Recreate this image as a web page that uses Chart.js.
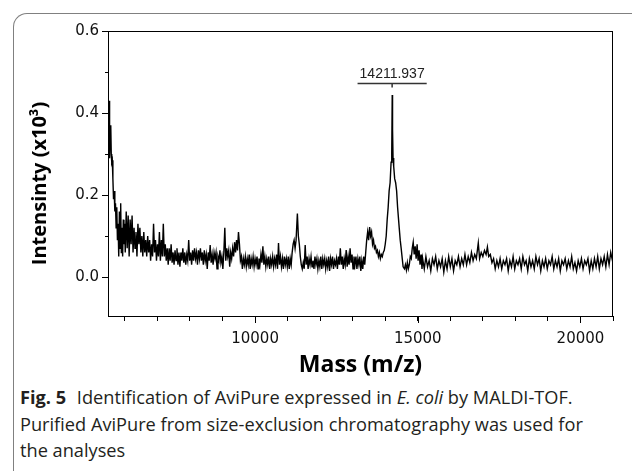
<!DOCTYPE html>
<html lang="en">
<head>
<meta charset="UTF-8">
<title>AviPure MALDI-TOF</title>
<script src="https://cdn.jsdelivr.net/npm/chart.js"></script>
<style>
  body { margin: 0; width: 632px; height: 471px; overflow: hidden; background: #fff; position: relative; }
  #frame { position: absolute; left: 13px; top: 13px; width: 660px; height: 480px;
           border-left: 1.5px solid #808080; border-top: 1.5px solid #808080; border-top-left-radius: 14px; }
  #wrap { position: absolute; left: 0; top: 0; width: 632px; height: 380px; }
  #caption { position: absolute; left: 20px; top: 384px; white-space: nowrap;
             font-family: "Open Sans", sans-serif; font-size: 18.2px; line-height: 26.5px; color: #231f20; }
  #caption b { margin-right: 6px; }
</style>
</head>
<body>
<div id="frame"></div>
<div id="wrap"><canvas id="spectrum" width="632" height="380"></canvas></div>
<div id="caption">
  <b>Fig. 5</b> Identification of AviPure expressed in <i>E. coli</i> by MALDI-TOF.<br>
  Purified AviPure from size-exclusion chromatography was used for<br>
  the analyses
</div>

<script>
    // [mass (m/z), intensity (x10^3)]
    const lowMassRegion = [
        [5490,0.30],[5512,0.43],[5522,0.37],[5535,0.29],[5550,0.36],[5565,0.37],[5580,0.30],[5595,0.28],[5612,0.285],
        [5630,0.24],[5650,0.19],[5670,0.21],[5690,0.16],[5710,0.18],[5730,0.12],[5750,0.17],[5770,0.09],
        [5790,0.13],[5810,0.05],[5830,0.16],[5850,0.07],[5870,0.18],[5890,0.06],[5910,0.12],[5930,0.05],
        [5950,0.14],[5970,0.08],[5990,0.13],[6010,0.06],[6040,0.16],[6070,0.07],[6100,0.15],[6130,0.05],
        [6160,0.14],[6190,0.08],[6220,0.15],[6250,0.06],[6280,0.12],[6310,0.07],[6340,0.11],[6370,0.05],
        [6400,0.13],[6430,0.08],[6460,0.12],[6490,0.06],[6520,0.10],[6550,0.05],[6580,0.11],[6610,0.06],
        [6640,0.09],[6670,0.05],[6700,0.10],[6730,0.06],[6760,0.09],[6790,0.04],[6820,0.08],[6850,0.05],
        [6880,0.13],[6910,0.06],[6940,0.09],[6970,0.04]
    ];
    const midRegion = [
        [7000,0.08],[7030,0.05],[7060,0.11],[7090,0.04],[7120,0.09],[7150,0.05],[7180,0.13],[7210,0.05],
        [7240,0.08],[7270,0.04],[7300,0.07],[7330,0.03],[7360,0.07],[7390,0.04],[7420,0.08],[7450,0.035],
        [7480,0.06],[7510,0.03],[7540,0.065],[7570,0.04],[7600,0.07],[7630,0.03],[7660,0.06],[7690,0.025],
        [7720,0.06],[7750,0.04],[7780,0.07],[7810,0.035],[7840,0.06],[7870,0.03],[7900,0.055],[7930,0.04],
        [7960,0.09],[7990,0.04],[8020,0.06],[8050,0.03],[8080,0.065],[8110,0.04],[8140,0.07],[8170,0.045],
        [8200,0.06],[8230,0.03],[8260,0.065],[8290,0.045],[8320,0.07],[8350,0.04],[8380,0.06],[8410,0.03],
        [8440,0.065],[8470,0.04],[8500,0.055],[8530,0.02],[8560,0.06],[8590,0.04],[8620,0.078],[8650,0.035],
        [8680,0.055],[8710,0.03],[8740,0.06],[8770,0.045],[8800,0.06],[8830,0.02],[8860,0.05],[8890,0.04],
        [8920,0.065],[8950,0.035],[8980,0.05],[9010,0.02],[9040,0.06],[9070,0.12],[9100,0.04],[9130,0.07],
        [9160,0.05],[9190,0.065],[9220,0.025],[9250,0.06],[9280,0.045],[9310,0.07],[9340,0.05],[9370,0.085],
        [9400,0.06],[9430,0.09],[9460,0.065],[9490,0.11],[9520,0.08],[9550,0.04],[9580,0.05],[9610,0.02],
        [9640,0.045],[9670,0.03],[9700,0.05],[9730,0.025],[9760,0.045],[9790,0.03],[9820,0.055],[9850,0.02],
        [9880,0.045],[9910,0.03],[9940,0.05],[9970,0.025],[10000,0.045],[10030,0.03],[10060,0.05],[10090,0.02],
        [10120,0.045],[10150,0.03],[10180,0.055],[10210,0.035],[10240,0.075],[10270,0.03],[10300,0.05],[10330,0.025],
        [10360,0.045],[10390,0.03],[10420,0.05],[10450,0.02],[10480,0.045],[10510,0.03],[10540,0.05],[10570,0.025],
        [10600,0.045],[10630,0.03],[10660,0.055],[10690,0.02],[10720,0.083],[10750,0.03],[10780,0.05],[10810,0.025],
        [10840,0.045],[10870,0.02],[10900,0.05],[10930,0.03],[10960,0.045],[10990,0.025],[11020,0.05],[11050,0.02],
        [11080,0.045],[11110,0.03],[11140,0.06],[11170,0.08],[11200,0.09],[11230,0.07],[11260,0.09],[11300,0.155],
        [11330,0.10],[11360,0.08],[11390,0.05],[11420,0.03],[11450,0.02],[11480,0.035],[11510,0.02],[11540,0.078],
        [11570,0.03],[11600,0.05],[11630,0.02],[11660,0.045],[11690,0.03],[11720,0.05],[11750,0.025],[11780,0.04],
        [11810,0.02],[11840,0.05],[11870,0.03],[11900,0.045],[11930,0.02],[11960,0.04],[11990,0.025],[12020,0.05],
        [12050,0.02],[12080,0.045],[12110,0.03],[12140,0.045],[12170,0.02],[12200,0.04],[12230,0.025],[12260,0.05],
        [12290,0.015],[12320,0.045],[12350,0.03],[12380,0.05],[12410,0.02],[12440,0.04],[12470,0.03],[12500,0.045],
        [12530,0.02],[12560,0.05],[12590,0.03],[12620,0.07],[12650,0.03],[12680,0.05],[12710,0.02],[12740,0.045],
        [12770,0.03],[12800,0.066],[12830,0.025],[12860,0.05],[12890,0.03],[12920,0.07],[12950,0.035],[12980,0.055],
        [13010,0.02],[13040,0.05],[13070,0.03],[13100,0.05],[13130,0.02],[13160,0.045],[13190,0.03],[13220,0.05],
        [13250,0.015],[13280,0.04],[13310,0.02],[13340,0.05],[13370,0.03]
    ];
    const peakRegion = [
        [13400,0.06],[13430,0.09],[13460,0.11],[13490,0.09],[13520,0.122],[13550,0.10],[13580,0.11],[13610,0.08],
        [13640,0.09],[13670,0.07],[13700,0.075],[13730,0.06],[13760,0.065],[13790,0.05],[13820,0.06],[13850,0.045],
        [13880,0.055],[13910,0.05],[13940,0.06],[13970,0.065],[14000,0.08],[14030,0.10],[14060,0.14],[14090,0.17],
        [14120,0.21],[14150,0.23],[14180,0.28],[14200,0.30],[14215,0.444],[14225,0.36],[14240,0.29],[14260,0.27],
        [14290,0.24],[14320,0.23],[14350,0.21],[14380,0.17],[14410,0.14],[14430,0.12],[14461,0.09],[14490,0.07],
        [14523,0.045],[14550,0.025],[14590,0.02],[14620,0.03],[14650,0.017],[14680,0.035],[14710,0.02],[14740,0.03],
        [14770,0.05],[14800,0.045],[14830,0.07],[14860,0.085],[14890,0.055],[14920,0.075],[14950,0.045],[14980,0.08],
        [15010,0.04],[15040,0.065],[15070,0.03],[15100,0.055],[15130,0.02]
    ];
    const highMassRegion = [
        [15150,0.045],[15200,0.02],[15250,0.05],[15300,0.025],[15350,0.04],[15400,0.015],[15450,0.045],[15500,0.03],
        [15550,0.05],[15600,0.02],[15650,0.04],[15700,0.025],[15750,0.045],[15800,0.012],[15850,0.04],[15900,0.02],
        [15950,0.05],[16000,0.025],[16050,0.045],[16100,0.015],[16150,0.04],[16200,0.03],[16250,0.05],[16300,0.025],
        [16350,0.045],[16400,0.03],[16450,0.055],[16500,0.03],[16550,0.05],[16600,0.035],[16650,0.06],[16700,0.04],
        [16750,0.055],[16800,0.045],[16860,0.083],[16900,0.045],[16950,0.06],[17000,0.05],[17050,0.065],[17100,0.055],
        [17140,0.073],[17180,0.05],[17230,0.055],[17280,0.035],[17330,0.045],[17380,0.02],[17430,0.04],[17480,0.025],
        [17530,0.045],[17580,0.02],[17630,0.04],[17680,0.03],[17730,0.045],[17780,0.015],[17830,0.04],[17880,0.025],
        [17930,0.05],[17980,0.02],[18030,0.04],[18080,0.03],[18130,0.045],[18180,0.02],[18230,0.05],[18280,0.03],
        [18330,0.04],[18380,0.015],[18430,0.045],[18480,0.025],[18530,0.04],[18580,0.02],[18630,0.05],[18680,0.03],
        [18730,0.045],[18780,0.015],[18830,0.04],[18880,0.025],[18930,0.045],[18980,0.02],[19030,0.04],[19080,0.03],
        [19130,0.05],[19180,0.02],[19230,0.04],[19280,0.025],[19330,0.045],[19380,0.015],[19430,0.04],[19480,0.03],
        [19530,0.045],[19580,0.02],[19630,0.04],[19680,0.025],[19730,0.05],[19780,0.02],[19830,0.035],[19880,0.015],
        [19930,0.04],[19980,0.025],[20030,0.045],[20080,0.02],[20130,0.04],[20180,0.03],[20230,0.045],[20280,0.015],
        [20330,0.04],[20380,0.02],[20430,0.045],[20480,0.025],[20530,0.05],[20580,0.02],[20630,0.045],[20680,0.03],
        [20730,0.05],[20780,0.025],[20830,0.055],[20880,0.03],[20930,0.06],[20970,0.045],[21000,0.055]
    ];

    const xTickValues = [6000, 7000, 8000, 9000, 10000, 11000, 12000, 13000, 14000, 15000,
                         16000, 17000, 18000, 19000, 20000, 21000];
    const xMajorTicks = [10000, 15000, 20000];
    const yTickValues = [0.0, 0.1, 0.2, 0.3, 0.4, 0.5, 0.6];
    const yMajorTicks = [0.0, 0.2, 0.4, 0.6];
    const peakMass = 14211.937;
    const peakLabel = '14211.937';
    const peakBarLevel = 0.472;   // intensity level of the bar above the peak
    const yTitle = 'Intensinty (x10³)';

    const spectrum = [].concat(lowMassRegion, midRegion, peakRegion, highMassRegion);
    const points = spectrum.map(p => ({ x: p[0], y: p[1] }));

    // box top/right, longer major ticks, y title, peak label
    const extras = {
        id: 'extras',
        afterDraw(chart) {
            const { ctx, chartArea: a, scales: { x, y } } = chart;
            ctx.save();
            ctx.strokeStyle = '#000';
            ctx.lineWidth = 1;
            ctx.beginPath();
            ctx.moveTo(a.left, Math.round(a.top) + 0.5);
            ctx.lineTo(a.right, Math.round(a.top) + 0.5);
            ctx.moveTo(Math.round(a.right) - 0.5, a.top);
            ctx.lineTo(Math.round(a.right) - 0.5, a.bottom);
            xMajorTicks.forEach(v => {
                const px = Math.round(x.getPixelForValue(v)) + 0.5;
                ctx.moveTo(px, a.bottom); ctx.lineTo(px, a.bottom + 7);
            });
            yMajorTicks.forEach(v => {
                const py = Math.round(y.getPixelForValue(v)) + 0.5;
                ctx.moveTo(a.left - 6, py); ctx.lineTo(a.left, py);
            });
            ctx.stroke();

            // y axis title
            ctx.save();
            ctx.translate(40, (a.top + a.bottom) / 2 + 10);
            ctx.rotate(-Math.PI / 2);
            ctx.font = 'bold 20px "Open Sans"';
            ctx.fillStyle = '#000';
            ctx.textAlign = 'center';
            ctx.textBaseline = 'middle';
            ctx.fillText(yTitle, 0, 0);
            ctx.restore();

            const px = x.getPixelForValue(peakMass);
            const by = Math.round(y.getPixelForValue(peakBarLevel)) + 0.5;
            ctx.font = '14px "Liberation Sans"';
            const w = ctx.measureText(peakLabel).width;
            ctx.strokeStyle = '#333';
            ctx.lineWidth = 1.5;
            ctx.beginPath();
            ctx.moveTo(px - w / 2 - 2, by); ctx.lineTo(px + w / 2 + 2, by);
            ctx.moveTo(px, by); ctx.lineTo(px, by + 4);
            ctx.stroke();
            ctx.fillStyle = '#222';
            ctx.textAlign = 'center';
            ctx.textBaseline = 'bottom';
            ctx.fillText(peakLabel, px, by - 2);
            ctx.restore();
        }
    };

    const tickFont = { family: 'DejaVu Sans', size: 15 };

    new Chart(document.getElementById('spectrum').getContext('2d'), {
        type: 'line',
        data: {
            datasets: [{
                data: points,
                borderColor: '#000',
                borderWidth: 1.4,
                pointRadius: 0,
                tension: 0,
                fill: false
            }]
        },
        options: {
            responsive: false,
            animation: false,
            layout: { padding: { top: 31, right: 19, bottom: 0, left: 0 } },
            plugins: { legend: { display: false }, tooltip: { enabled: false } },
            scales: {
                x: {
                    type: 'linear',
                    min: 5480,
                    max: 21000,
                    afterFit: s => { s.height = 64; },
                    afterBuildTicks: s => { s.ticks = xTickValues.map(v => ({ value: v })); },
                    border: { display: true, color: '#000', width: 1 },
                    grid: { drawOnChartArea: false, color: '#000', tickColor: '#000', tickLength: 5 },
                    ticks: {
                        autoSkip: false,
                        maxRotation: 0,
                        padding: 9,
                        color: '#111',
                        font: tickFont,
                        callback: v => xMajorTicks.includes(v) ? String(v) : ''
                    },
                    title: { display: true, text: 'Mass (m/z)', color: '#000',
                             font: { family: 'Open Sans', weight: 'bold', size: 23 },
                             padding: { top: 0, bottom: 1 } }
                },
                y: {
                    min: -0.095,
                    max: 0.6,
                    afterFit: s => { s.width = 108; },
                    afterBuildTicks: s => { s.ticks = yTickValues.map(v => ({ value: v })); },
                    border: { display: true, color: '#000', width: 1 },
                    grid: { drawOnChartArea: false, color: '#000', tickColor: '#000', tickLength: 3 },
                    ticks: {
                        autoSkip: false,
                        padding: 6,
                        color: '#111',
                        font: tickFont,
                        callback: v => yMajorTicks.includes(v) ? v.toFixed(1) : ''
                    }
                }
            }
        },
        plugins: [extras]
    });
</script>
</body>
</html>
